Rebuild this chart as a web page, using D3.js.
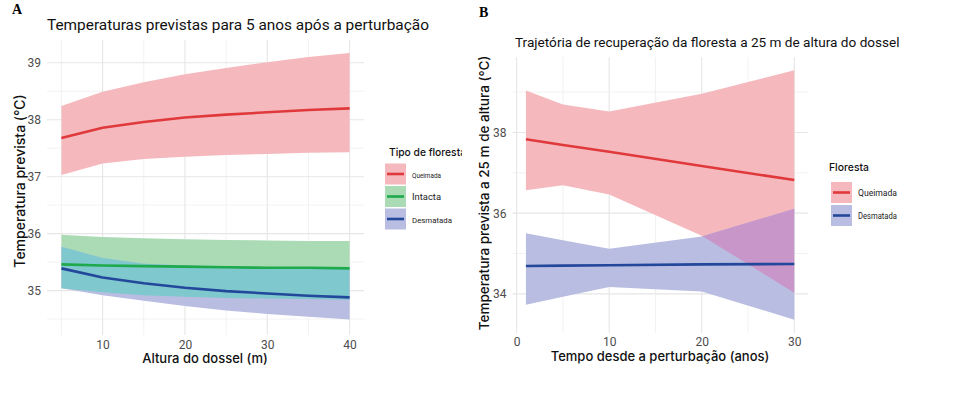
<!DOCTYPE html>
<html>
<head>
<meta charset="utf-8">
<script src="https://cdn.jsdelivr.net/npm/d3@7"></script>
<style>
  body { margin: 0; background: #fff; }
  text { font-family: Roboto, "Noto Sans", sans-serif; }
</style>
</head>
<body>
<svg width="957" height="399"></svg>
<script>
// painel A: altura do dossel (m)
let heightsA = [5, 10, 15, 20, 25, 30, 35, 40]
let queimadaA = [37.68, 37.86, 37.96, 38.04, 38.09, 38.13, 38.17, 38.2]
let queimadaLowA = [37.03, 37.23, 37.31, 37.35, 37.38, 37.4, 37.42, 37.43]
let queimadaHighA = [38.24, 38.49, 38.66, 38.8, 38.91, 39.01, 39.1, 39.17]
let intactaA = [35.46, 35.44, 35.43, 35.42, 35.41, 35.4, 35.4, 35.39]
let intactaLowA = [35.04, 34.97, 34.92, 34.89, 34.87, 34.86, 34.85, 34.84]
let intactaHighA = [35.98, 35.94, 35.92, 35.9, 35.89, 35.88, 35.87, 35.87]
let desmatadaA = [35.39, 35.23, 35.13, 35.05, 34.99, 34.95, 34.91, 34.88]
let desmatadaLowA = [35.04, 34.92, 34.82, 34.73, 34.65, 34.59, 34.54, 34.49]
let desmatadaHighA = [35.77, 35.57, 35.47, 35.44, 35.42, 35.41, 35.4, 35.39]

// painel B: anos desde a perturbação
let yearsB = [1, 5, 10, 20, 30]
let queimadaB = [37.83, 37.69, 37.52, 37.17, 36.82]
let queimadaLowB = [36.57, 36.69, 36.46, 35.44, 34.03]
let queimadaHighB = [39.04, 38.69, 38.52, 38.96, 39.54]
let desmatadaB = [34.69, 34.7, 34.71, 34.73, 34.74]
let desmatadaLowB = [33.73, 33.93, 34.17, 34.06, 33.36]
let desmatadaHighB = [35.5, 35.33, 35.12, 35.42, 36.11]

let xTicksA = [10, 20, 30, 40]
let yTicksA = [35, 36, 37, 38, 39]
let xTicksB = [0, 10, 20, 30]
let yTicksB = [34, 36, 38]

let colors = {
  Queimada: { line: '#e0393b', band: '#f5b8bd' },
  Intacta: { line: '#1ea94c', band: '#aadbb5' },
  Desmatada: { line: '#23479a', band: '#b9bde1' }
}

let svg = d3.select('svg')

function rows(xs, fit, low, high) {
  return xs.map((x, i) => ({ x: x, fit: fit[i], low: low[i], high: high[i] }))
}

function drawPanel(cfg) {
  let x = d3.scaleLinear().domain(cfg.xDomain).range(cfg.xRange)
  let y = d3.scaleLinear().domain(cfg.yDomain).range(cfg.yRange)
  let g = svg.append('g')

  // minor grid at the midpoints of the major ticks
  let xStep = cfg.xTicks[1] - cfg.xTicks[0]
  let yStep = cfg.yTicks[1] - cfg.yTicks[0]
  let xMinor = d3.range(cfg.xTicks[0] - xStep / 2, cfg.xDomain[1], xStep).filter(v => v >= cfg.xDomain[0])
  let yMinor = d3.range(cfg.yTicks[0] - yStep / 2, cfg.yDomain[1], yStep).filter(v => v >= cfg.yDomain[0])

  g.selectAll('.vminor').data(xMinor).enter().append('line')
      .attr('x1', d => x(d)).attr('x2', d => x(d))
      .attr('y1', cfg.yRange[1]).attr('y2', cfg.yRange[0])
      .attr('stroke', '#efefef').attr('stroke-width', 0.8)
  g.selectAll('.hminor').data(yMinor).enter().append('line')
      .attr('y1', d => y(d)).attr('y2', d => y(d))
      .attr('x1', cfg.xRange[0]).attr('x2', cfg.xRange[1])
      .attr('stroke', '#efefef').attr('stroke-width', 0.8)
  g.selectAll('.vmajor').data(cfg.xTicks).enter().append('line')
      .attr('x1', d => x(d)).attr('x2', d => x(d))
      .attr('y1', cfg.yRange[1]).attr('y2', cfg.yRange[0])
      .attr('stroke', '#e6e6e6').attr('stroke-width', 1.1)
  g.selectAll('.hmajor').data(cfg.yTicks).enter().append('line')
      .attr('y1', d => y(d)).attr('y2', d => y(d))
      .attr('x1', cfg.xRange[0]).attr('x2', cfg.xRange[1])
      .attr('stroke', '#e6e6e6').attr('stroke-width', 1.1)

  let area = d3.area().x(d => x(d.x)).y0(d => y(d.low)).y1(d => y(d.high))
  let line = d3.line().x(d => x(d.x)).y(d => y(d.fit))

  cfg.series.forEach(s => {
    g.append('path')
        .attr('d', area(s.data))
        .attr('fill', colors[s.name].band)
  })

  // overlap of two ribbons gets its own mixed colour
  let clipId = cfg.id + '-clip'
  g.append('clipPath')
      .attr('id', clipId)
    .append('path')
      .attr('d', area(cfg.series[cfg.overlap[0]].data))
  g.append('path')
      .attr('d', area(cfg.series[cfg.overlap[1]].data))
      .attr('clip-path', `url(#${clipId})`)
      .attr('fill', cfg.overlapColor)

  cfg.series.forEach(s => {
    g.append('path')
        .attr('d', line(s.data))
        .attr('fill', 'none')
        .attr('stroke', colors[s.name].line)
        .attr('stroke-width', 2.6)
  })

  let xAxis = g.append('g')
      .attr('transform', `translate(0, ${cfg.yRange[0]})`)
      .call(d3.axisBottom(x).tickValues(cfg.xTicks).tickSize(0).tickPadding(cfg.xPad))
  let yAxis = g.append('g')
      .attr('transform', `translate(${cfg.xRange[0]}, 0)`)
      .call(d3.axisLeft(y).tickValues(cfg.yTicks).tickSize(0).tickPadding(cfg.yPad).tickFormat(d3.format('d')))
  ;[xAxis, yAxis].forEach(a => {
    a.select('.domain').remove()
    a.selectAll('text')
        .attr('fill', '#4d4d4d')
        .style('font-size', '12px')
        .style('font-family', 'Roboto, sans-serif')
  })

  g.append('text')
      .attr('x', cfg.tag[0]).attr('y', cfg.tag[1])
      .style('font-family', '"Liberation Serif", serif')
      .style('font-weight', 'bold')
      .style('font-size', '14px')
      .text(cfg.tagText)

  g.append('text')
      .attr('x', cfg.title[0]).attr('y', cfg.title[1])
      .style('font-size', cfg.titleSize)
      .attr('fill', '#111')
      .text(cfg.titleText)

  g.append('text')
      .attr('x', cfg.xTitle[0]).attr('y', cfg.xTitle[1])
      .attr('text-anchor', 'middle')
      .style('font-family', 'Inter, Roboto, sans-serif')
      .style('font-size', '13px')
      .style('font-weight', 500)
      .attr('fill', '#111')
      .text(cfg.xTitleText)

  g.append('text')
      .attr('transform', `translate(${cfg.yTitle[0]}, ${cfg.yTitle[1]}) rotate(-90)`)
      .attr('text-anchor', 'middle')
      .style('font-family', 'Inter, Roboto, sans-serif')
      .style('font-size', cfg.yTitleSize)
      .style('font-weight', 500)
      .attr('fill', '#111')
      .text(cfg.yTitleText)

  // legend
  let lg = g.append('g')
  let legClip = cfg.id + '-leg'
  lg.append('clipPath')
      .attr('id', legClip)
    .append('rect')
      .attr('x', cfg.legend.x - 5).attr('y', cfg.legend.titleY - 20)
      .attr('width', cfg.legend.clipW).attr('height', 30)
  lg.append('text')
      .attr('x', cfg.legend.x + cfg.legend.titleDx).attr('y', cfg.legend.titleY)
      .attr('clip-path', `url(#${legClip})`)
      .style('font-family', 'Inter, Roboto, sans-serif')
      .style('font-size', '11px')
      .style('font-weight', 500)
      .attr('textLength', cfg.legend.titleW)
      .attr('lengthAdjust', 'spacingAndGlyphs')
      .attr('fill', '#111')
      .text(cfg.legend.title)

  let keys = lg.selectAll('.key')
      .data(cfg.series)
      .enter()
      .append('g')
      .attr('transform', (d, i) => `translate(${cfg.legend.x}, ${cfg.legend.keyY + i * cfg.legend.step})`)
  keys.append('rect')
      .attr('width', 21).attr('height', 21)
      .attr('fill', d => colors[d.name].band)
  keys.append('line')
      .attr('x1', 2).attr('x2', 19)
      .attr('y1', 10.5).attr('y2', 10.5)
      .attr('stroke', d => colors[d.name].line)
      .attr('stroke-width', 2.6)
  keys.append('text')
      .attr('x', 27).attr('y', 14)
      .style('font-size', (d, i) => cfg.legend.sizes[i] + 'px')
      .attr('textLength', (d, i) => cfg.legend.widths[i])
      .attr('lengthAdjust', 'spacingAndGlyphs')
      .attr('fill', '#222')
      .text(d => d.name)
}

drawPanel({
  id: 'a',
  xDomain: [3.25, 41.75], xRange: [47, 364],
  yDomain: [34.22, 39.4], yRange: [335, 40],
  xTicks: xTicksA, yTicks: yTicksA,
  xPad: 5, yPad: 6,
  series: [
    { name: 'Queimada', data: rows(heightsA, queimadaA, queimadaLowA, queimadaHighA) },
    { name: 'Intacta', data: rows(heightsA, intactaA, intactaLowA, intactaHighA) },
    { name: 'Desmatada', data: rows(heightsA, desmatadaA, desmatadaLowA, desmatadaHighA) }
  ],
  overlap: [1, 2], overlapColor: '#7ec8ce',
  tag: [12, 14], tagText: 'A',
  title: [47, 30], titleText: 'Temperaturas previstas para 5 anos após a perturbação', titleSize: '15.4px',
  xTitle: [205, 363], xTitleText: 'Altura do dossel (m)',
  yTitle: [25, 181], yTitleText: 'Temperatura prevista (°C)', yTitleSize: '14px',
  legend: { x: 385, titleDx: 4, titleY: 156, keyY: 163.5, step: 22.5, title: 'Tipo de floresta', titleW: 77, clipW: 82,
            sizes: [8, 9.5, 8], widths: [29, 29, 40] }
})

drawPanel({
  id: 'b',
  xDomain: [-0.45, 31.45], xRange: [512.5, 807.7],
  yDomain: [33.03, 39.87], yRange: [333, 57],
  xTicks: xTicksB, yTicks: yTicksB,
  xPad: 4, yPad: 6,
  series: [
    { name: 'Queimada', data: rows(yearsB, queimadaB, queimadaLowB, queimadaHighB) },
    { name: 'Desmatada', data: rows(yearsB, desmatadaB, desmatadaLowB, desmatadaHighB) }
  ],
  overlap: [0, 1], overlapColor: '#c896c8',
  tag: [479, 17], tagText: 'B',
  title: [515, 47], titleText: 'Trajetória de recuperação da floresta a 25 m de altura do dossel', titleSize: '13.6px',
  xTitle: [660, 361], xTitleText: 'Tempo desde a perturbação (anos)',
  yTitle: [489, 193], yTitleText: 'Temperatura prevista a 25 m de altura (°C)', yTitleSize: '13.5px',
  legend: { x: 831, titleDx: -2, titleY: 171, keyY: 182, step: 23, title: 'Floresta', titleW: 40, clipW: 100,
            sizes: [9, 9], widths: [39, 39] }
})
</script>
</body>
</html>
